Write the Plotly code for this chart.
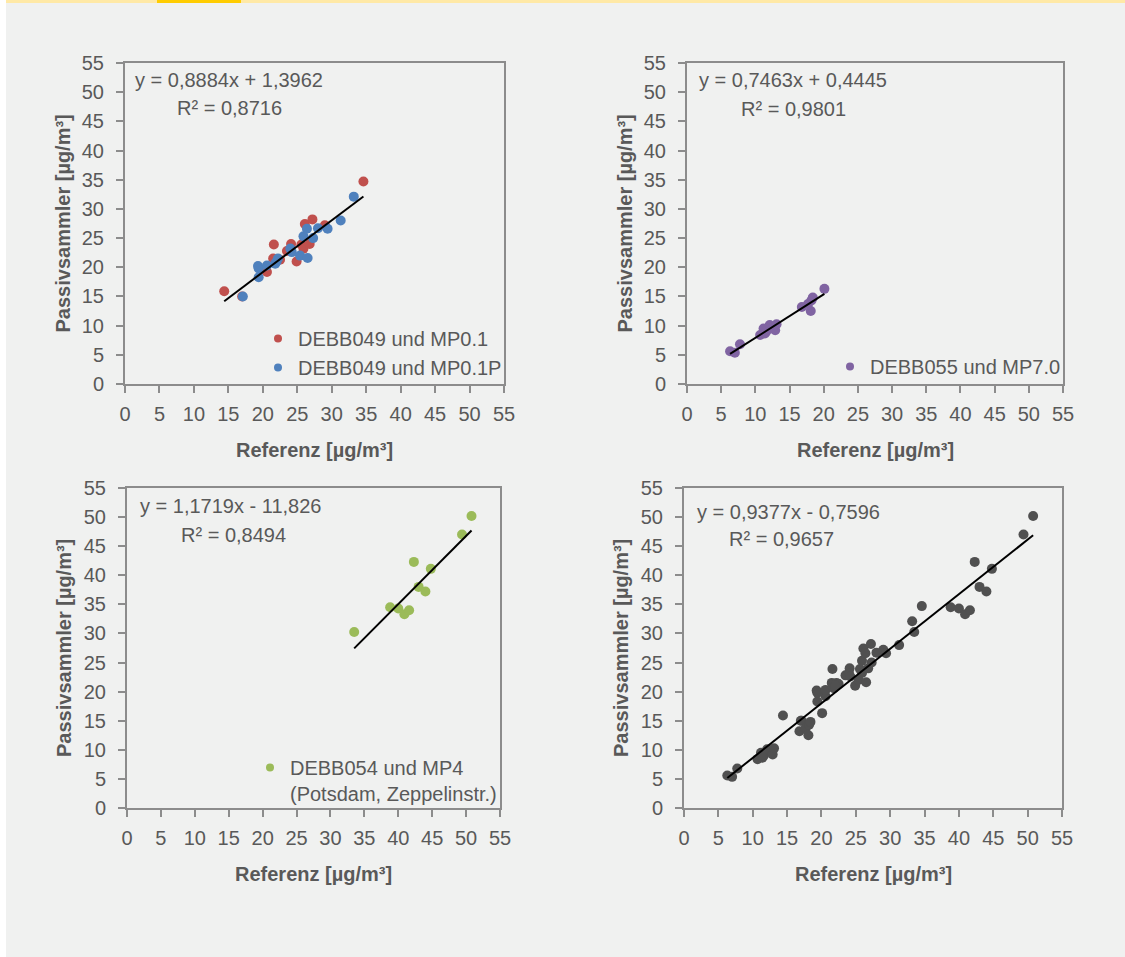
import plotly.graph_objects as go

# ---------------- data ----------------
red_x = [14.4, 17.0, 20.6, 21.5, 21.6, 22.5, 23.5, 24.1, 24.9, 25.6, 25.9, 26.1, 26.8, 27.2, 29.0, 34.6]
red_y = [15.9, 15.0, 19.2, 21.5, 23.9, 21.3, 22.8, 24.0, 21.0, 23.9, 23.2, 27.4, 24.0, 28.2, 27.2, 34.7]

blue_x = [17.1, 19.4, 19.4, 19.3, 20.6, 21.8, 22.2, 22.0, 24.0, 24.2, 25.4, 26.5, 25.9, 26.4, 27.3, 28.0, 29.4, 31.3, 33.2]
blue_y = [15.0, 18.3, 19.8, 20.2, 20.3, 20.6, 21.5, 21.0, 23.2, 22.6, 22.0, 21.6, 25.3, 26.6, 25.0, 26.7, 26.6, 28.0, 32.1]

purple_x = [6.3, 7.0, 7.75, 10.7, 11.4, 11.2, 11.6, 12.1, 12.9, 13.1, 16.8, 17.7, 18.1, 18.2, 18.4, 20.1]
purple_y = [5.6, 5.35, 6.8, 8.4, 8.65, 9.5, 9.0, 10.1, 9.2, 10.25, 13.2, 13.7, 12.5, 14.3, 14.8, 16.3]

green_x = [33.5, 38.8, 40.0, 40.9, 41.6, 42.3, 43.0, 44.0, 44.8, 49.4, 50.8]
green_y = [30.25, 34.5, 34.3, 33.3, 34.0, 42.3, 38.0, 37.2, 41.1, 47.0, 50.2]

slopes = [0.8884, 0.7463, 1.1719, 0.9377]
intercepts = [1.3962, 0.4445, -11.826, -0.7596]
eq_texts = ["y = 0,8884x + 1,3962", "y = 0,7463x + 0,4445", "y = 1,1719x - 11,826", "y = 0,9377x - 0,7596"]
r2_texts = ["R² = 0,8716", "R² = 0,9801", "R² = 0,8494", "R² = 0,9657"]

legend_names = ["DEBB049 und MP0.1", "DEBB049 und MP0.1P", "DEBB055 und MP7.0",
                "DEBB054 und MP4<br>(Potsdam, Zeppelinstr.)"]
tick_vals = list(range(0, 60, 5))
x_title = "Referenz [µg/m³]"
y_title = "Passivsammler [µg/m³]"

# ---------------- style ----------------
W, H = 1125, 957
FONT = "Liberation Sans, Arial, sans-serif"
FS = 20
TXT = "#595959"
AX = "#8c8c8c"
BG = "#F0F1F0"
C_RED, C_BLUE, C_PURPLE, C_GREEN, C_GRAY = "#C0504D", "#4F81BD", "#8064A2", "#9BBB59", "#505050"
MS = 10

# plot area pixel boxes: (left, right, top, bottom)
boxes = [(125, 504, 63, 384), (687, 1063, 63, 384), (127, 500, 488, 808), (684, 1062, 488, 808)]

fig = go.Figure()

def axis_ids(i):
    s = "" if i == 0 else str(i + 1)
    return "x" + s, "y" + s, "xaxis" + s, "yaxis" + s

panels = [
    [(red_x, red_y, C_RED), (blue_x, blue_y, C_BLUE)],
    [(purple_x, purple_y, C_PURPLE)],
    [(green_x, green_y, C_GREEN)],
    [(red_x + blue_x + purple_x + green_x, red_y + blue_y + purple_y + green_y, C_GRAY)],
]

for i, series in enumerate(panels):
    xr, yr, xa, ya = axis_ids(i)
    allx = []
    for sx, sy, col in series:
        fig.add_trace(go.Scatter(x=sx, y=sy, mode="markers", xaxis=xr, yaxis=yr,
                                 marker=dict(size=MS, color=col), showlegend=False,
                                 hoverinfo="skip"))
        allx += sx
    x0, x1 = min(allx), max(allx)
    fig.add_trace(go.Scatter(x=[x0, x1], y=[slopes[i] * x0 + intercepts[i], slopes[i] * x1 + intercepts[i]],
                             mode="lines", xaxis=xr, yaxis=yr, line=dict(color="black", width=2),
                             showlegend=False, hoverinfo="skip"))
    l, r, t, b = boxes[i]
    common = dict(range=[0, 55], tickvals=tick_vals, showgrid=False, zeroline=False,
                  showline=True, linecolor=AX, linewidth=2, mirror=True,
                  ticks="outside", ticklen=7, tickwidth=2, tickcolor=AX,
                  tickfont=dict(family=FONT, size=FS, color=TXT), automargin=False, fixedrange=True)
    fig.layout[xa] = dict(common, domain=[l / W, r / W], anchor=yr, ticklabelstandoff=4)
    fig.layout[ya] = dict(common, domain=[1 - b / H, 1 - t / H], anchor=xr, ticklabelstandoff=8)
    # axis titles
    fig.add_annotation(x=(l + r) / 2 / W, y=1 - (b + 66) / H, xref="paper", yref="paper",
                       text="<b>" + x_title + "</b>", showarrow=False,
                       font=dict(family=FONT, size=FS, color=TXT), xanchor="center", yanchor="middle")
    fig.add_annotation(x=(l - 63) / W, y=1 - (t + b) / 2 / H, xref="paper", yref="paper",
                       text="<b>" + y_title + "</b>", showarrow=False, textangle=-90,
                       font=dict(family=FONT, size=FS, color=TXT), xanchor="center", yanchor="middle")

# equations
eq_pos = [(133, 80, 175, 108), (697, 80, 739, 109), (138, 506, 179, 535), (695, 512, 727, 539)]
for i in range(4):
    ex, ey, rx, ry = eq_pos[i]
    fig.add_annotation(x=ex / W, y=1 - ey / H, xref="paper", yref="paper", text=eq_texts[i],
                       showarrow=False, xanchor="left", yanchor="middle",
                       font=dict(family=FONT, size=FS, color=TXT))
    fig.add_annotation(x=rx / W, y=1 - ry / H, xref="paper", yref="paper", text=r2_texts[i],
                       showarrow=False, xanchor="left", yanchor="middle",
                       font=dict(family=FONT, size=FS, color=TXT))

# legend entries
leg_cols = [C_RED, C_BLUE, C_PURPLE, C_GREEN]
leg_ids = ["legend", "legend", "legend2", "legend3"]
for name, col, lid in zip(legend_names, leg_cols, leg_ids):
    fig.add_trace(go.Scatter(x=[None], y=[None], mode="markers", name=name,
                             marker=dict(size=8, color=col), legend=lid, showlegend=True))

legfont = dict(family=FONT, size=FS, color=TXT)
fig.update_layout(
    legend=dict(x=507 / W, y=1 - 387 / H, xanchor="right", yanchor="bottom", font=legfont,
                bgcolor="rgba(0,0,0,0)", tracegroupgap=0, itemclick=False),
    legend2=dict(x=1066 / W, y=1 - 386 / H, xanchor="right", yanchor="bottom", font=legfont,
                 bgcolor="rgba(0,0,0,0)", itemclick=False),
    legend3=dict(x=502 / W, y=1 - 813 / H, xanchor="right", yanchor="bottom", font=legfont,
                 bgcolor="rgba(0,0,0,0)", valign="top", itemclick=False),
)

# background & top bar
fig.add_shape(type="rect", xref="paper", yref="paper", x0=6 / W, x1=1, y0=0, y1=1,
              fillcolor=BG, line=dict(width=0), layer="below")
fig.add_shape(type="rect", xref="paper", yref="paper", x0=6 / W, x1=1, y0=1 - 3 / H, y1=1,
              fillcolor="#FFE9A6", line=dict(width=0), layer="below")
fig.add_shape(type="rect", xref="paper", yref="paper", x0=157 / W, x1=241 / W, y0=1 - 3 / H, y1=1,
              fillcolor="#FFCC00", line=dict(width=0), layer="below")

fig.update_layout(width=W, height=H, margin=dict(l=0, r=0, t=0, b=0),
                  paper_bgcolor="white", plot_bgcolor="rgba(0,0,0,0)",
                  font=dict(family=FONT, color=TXT), hovermode=False)

fig.write_html("out.html", config={"displayModeBar": False},
               post_script="document.body.style.margin='0';document.body.style.overflow='hidden';")
